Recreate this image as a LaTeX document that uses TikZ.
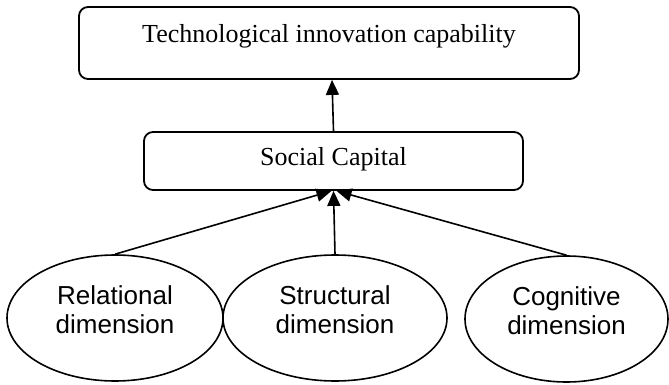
\documentclass[tikz,border=0pt]{standalone}
\usepackage{fontspec}
\setmainfont{Liberation Serif}
\setsansfont{Liberation Sans}
\usetikzlibrary{arrows.meta,shapes.geometric}
\begin{document}
\begin{tikzpicture}[x=1pt,y=-1pt,
  every node/.style={inner sep=0pt},
  rbox/.style={draw,line width=1.8pt,rounded corners=9pt,
    font=\fontsize{26}{30}\selectfont\rmfamily},
  ell/.style={draw,ellipse,line width=1.6pt},
  etext/.style={align=center,font=\fontsize{26}{29}\selectfont\sffamily},
  arr/.style={line width=1.6pt,-{Triangle[length=15pt,width=13pt]}}]
\useasboundingbox (0,0) rectangle (669,385);
\node[rbox,anchor=base,minimum width=500pt,text height=36pt,text depth=36pt] (tic) at (329,43) {Technological innovation capability};
\node[rbox,anchor=base,minimum width=379pt,text height=33pt,text depth=25pt] (soc) at (333.5,165) {Social Capital};
\node[ell,minimum width=216pt,minimum height=126pt] (rel) at (115,318) {};
\node[ell,minimum width=224pt,minimum height=126pt] (str) at (335,318) {};
\node[ell,minimum width=203pt,minimum height=126pt] (cog) at (566.5,319) {};
\node[etext] (relt) at (115,310) {Relational\\dimension};
\node[etext] (strt) at (335,310) {Structural\\dimension};
\node[etext] (cogt) at (566.5,311) {Cognitive\\dimension};
\draw[arr] (soc.north) -- ([xshift=3pt]tic.south);
\draw[arr] (rel.north) -- ([xshift=-2pt]soc.south);
\draw[arr] (str.north) -- ([xshift=0pt]soc.south);
\draw[arr] (cog.north) -- ([xshift=3pt]soc.south);
\end{tikzpicture}
\end{document}
